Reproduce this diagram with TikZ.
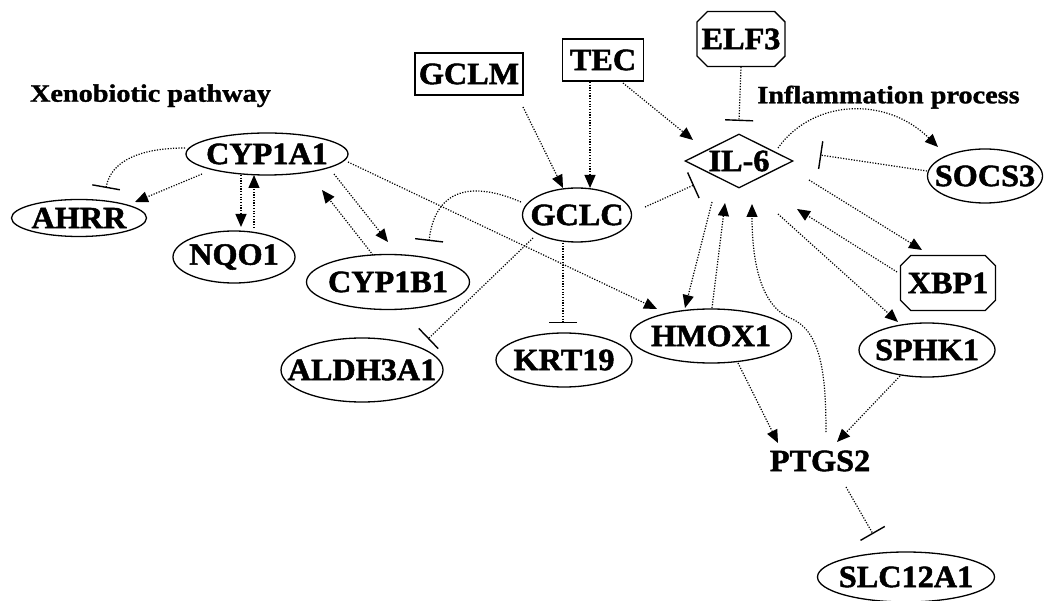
\documentclass[tikz,border=0pt]{standalone}
\usepackage{fontspec}
\setmainfont{Liberation Serif}
\newfontfamily\genefont{Liberation Serif}[FakeStretch=1.04,BoldFeatures={FakeBold=1.6}]
\newfontfamily\titlefont{Liberation Serif}[FakeStretch=1.13,BoldFeatures={FakeBold=1.3}]
\usetikzlibrary{shapes.geometric,shapes.misc,arrows.meta,calc}
\newcommand{\gt}[1]{\makebox[0pt]{#1}}
\tikzset{
  genefnt/.style={font={\genefont\bfseries\fontsize{31pt}{32pt}\selectfont}},
  titlefnt/.style={font={\titlefont\bfseries\fontsize{25pt}{27pt}\selectfont}},
  gene/.style={ellipse,draw,line width=1.3pt,inner sep=0pt,genefnt},
  genebox/.style={rectangle,draw,line width=1.3pt,inner sep=0pt,genefnt},
  geneoct/.style={chamfered rectangle,chamfered rectangle xsep=13pt,chamfered rectangle ysep=17pt,draw,line width=1.3pt,inner sep=0pt,genefnt},
  genedia/.style={diamond,draw,line width=1.3pt,inner sep=0pt,genefnt},
  genetxt/.style={inner sep=0pt,genefnt},
  lnk/.style={line width=1.2pt,dash pattern=on 1.2pt off 1.5pt},
  act/.style={lnk,-{Triangle[length=13pt,width=11pt]}},
  inh/.style={lnk,-{Bar[width=28pt,line width=1.4pt]}}
}
\begin{document}
\begin{tikzpicture}[x=1pt,y=-1pt]
\useasboundingbox (0,0) rectangle (1046,601);
% titles
\node[titlefnt,anchor=base,inner sep=0pt] (t1) at (150.5,101.7) {Xenobiotic pathway};
\node[titlefnt,anchor=base,inner sep=0pt] (t2) at (888.5,103.3) {Inflammation process};
% nodes
\node[gene,minimum width=162pt,minimum height=42pt] (CYP1A1) at (267,154) {\gt{CYP1A1}};
\node[gene,minimum width=135pt,minimum height=37pt] (AHRR) at (79,218) {\gt{AHRR}};
\node[gene,minimum width=122pt,minimum height=52pt] (NQO1) at (234,257) {\gt{NQO1}};
\node[gene,minimum width=163pt,minimum height=55pt] (CYP1B1) at (388,282) {\gt{CYP1B1}};
\node[gene,minimum width=162pt,minimum height=64pt] (ALDH3A1) at (362,370) {\gt{ALDH3A1}};
\node[gene,minimum width=136pt,minimum height=54pt] (KRT19) at (564,360) {\gt{KRT19}};
\node[gene,minimum width=109pt,minimum height=54pt] (GCLC) at (577,215) {\gt{GCLC}};
\node[genebox,minimum width=108pt,minimum height=42pt] (GCLM) at (469,74) {\gt{GCLM}};
\node[genebox,minimum width=81pt,minimum height=42pt] (TEC) at (603,60) {\gt{TEC}};
\node[geneoct,minimum width=88pt,minimum height=55pt] (ELF3) at (741,39) {\gt{ELF3}};
\node[genedia,minimum width=108pt,minimum height=54pt] (IL6) at (739,161) {\gt{IL-6}};
\node[gene,minimum width=115pt,minimum height=54pt] (SOCS3) at (985,176) {\gt{SOCS3}};
\node[geneoct,minimum width=95pt,minimum height=55pt] (XBP1) at (948,283) {\gt{XBP1}};
\node[gene,minimum width=136pt,minimum height=54pt] (SPHK1) at (927,350) {\gt{SPHK1}};
\node[gene,minimum width=161pt,minimum height=54pt] (HMOX1) at (711,336) {\gt{HMOX1}};
\node[genetxt] (PTGS2) at (820,461) {PTGS2};
\node[gene,minimum width=177pt,minimum height=50pt] (SLC12A1) at (906,577) {\gt{SLC12A1}};
% connectors
\draw[inh] ($(CYP1A1)+(-82,-6)$) .. controls ($(CYP1A1)+(-125,-6)$) and ($(AHRR)+(32,-58)$) .. ($(AHRR)+(27,-30)$);
\draw[act] ($(CYP1A1)+(-65,20)$) -- ($(AHRR)+(56,-16)$);
\draw[act] ($(CYP1A1)+(-26,21)$) -- ($(NQO1)+(7,-30)$);
\draw[act] ($(NQO1)+(20,-29)$) -- ($(CYP1A1)+(-13,21)$);
\draw[act] ($(CYP1B1)+(-15,-27)$) -- ($(CYP1A1)+(55,36)$);
\draw[act] ($(CYP1A1)+(67,20)$) -- ($(CYP1B1)+(0,-40)$);
\draw[inh] ($(GCLC)+(-56,-13)$) .. controls ($(GCLC)+(-107,-35)$) and ($(CYP1B1)+(47,-92)$) .. ($(CYP1B1)+(41,-41)$);
\draw[act] ($(CYP1A1)+(81,8)$) -- ($(HMOX1)+(-54,-27)$);
\draw[inh] ($(GCLC)+(-44,23)$) -- ($(ALDH3A1)+(66,-31)$);
\draw[inh] ($(GCLC)+(-14,28)$) -- ($(KRT19)+(-1,-37)$);
\draw[act] ($(GCLM)+(54,33)$) -- ($(GCLC)+(-14,-27)$);
\draw[act] ($(TEC)+(-13,22)$) -- ($(GCLC)+(13,-27)$);
\draw[act] ($(TEC)+(20,23)$) -- ($(IL6)+(-46,-21)$);
\draw[inh] ($(GCLC)+(68,-8)$) -- ($(IL6)+(-45,24)$);
\draw[inh] ($(ELF3)+(0,28)$) -- ($(IL6)+(0,-40)$);
\draw[act] ($(IL6)+(39,-13)$) .. controls ($(IL6)+(73,-61)$) and ($(SOCS3)+(-100,-81)$) .. ($(SOCS3)+(-47,-29)$);
\draw[inh] ($(SOCS3)+(-58,-5)$) -- ($(IL6)+(81,-6)$);
\draw[act] ($(IL6)+(70,19)$) -- ($(XBP1)+(-26,-33)$);
\draw[act] ($(XBP1)+(-51,-11)$) -- ($(IL6)+(58,48)$);
\draw[act] ($(IL6)+(39,53)$) -- ($(SPHK1)+(-29,-28)$);
\draw[act] ($(IL6)+(-27,41)$) -- ($(HMOX1)+(-26,-28)$);
\draw[act] ($(HMOX1)+(1,-28)$) -- ($(IL6)+(-14,42)$);
\draw[act] ($(PTGS2)+(6,-29)$) .. controls ($(PTGS2)+(6,-91)$) and ($(HMOX1)+(109,-6)$) .. ($(HMOX1)+(79,-18)$) .. controls ($(HMOX1)+(49,-31)$) and ($(IL6)+(13,99)$) .. ($(IL6)+(13,43)$);
\draw[act] ($(HMOX1)+(27,27)$) -- ($(PTGS2)+(-42,-18)$);
\draw[act] ($(SPHK1)+(-27,26)$) -- ($(PTGS2)+(17,-19)$);
\draw[inh] ($(PTGS2)+(26,26)$) -- ($(SLC12A1)+(-33,-43)$);
\end{tikzpicture}
\end{document}
